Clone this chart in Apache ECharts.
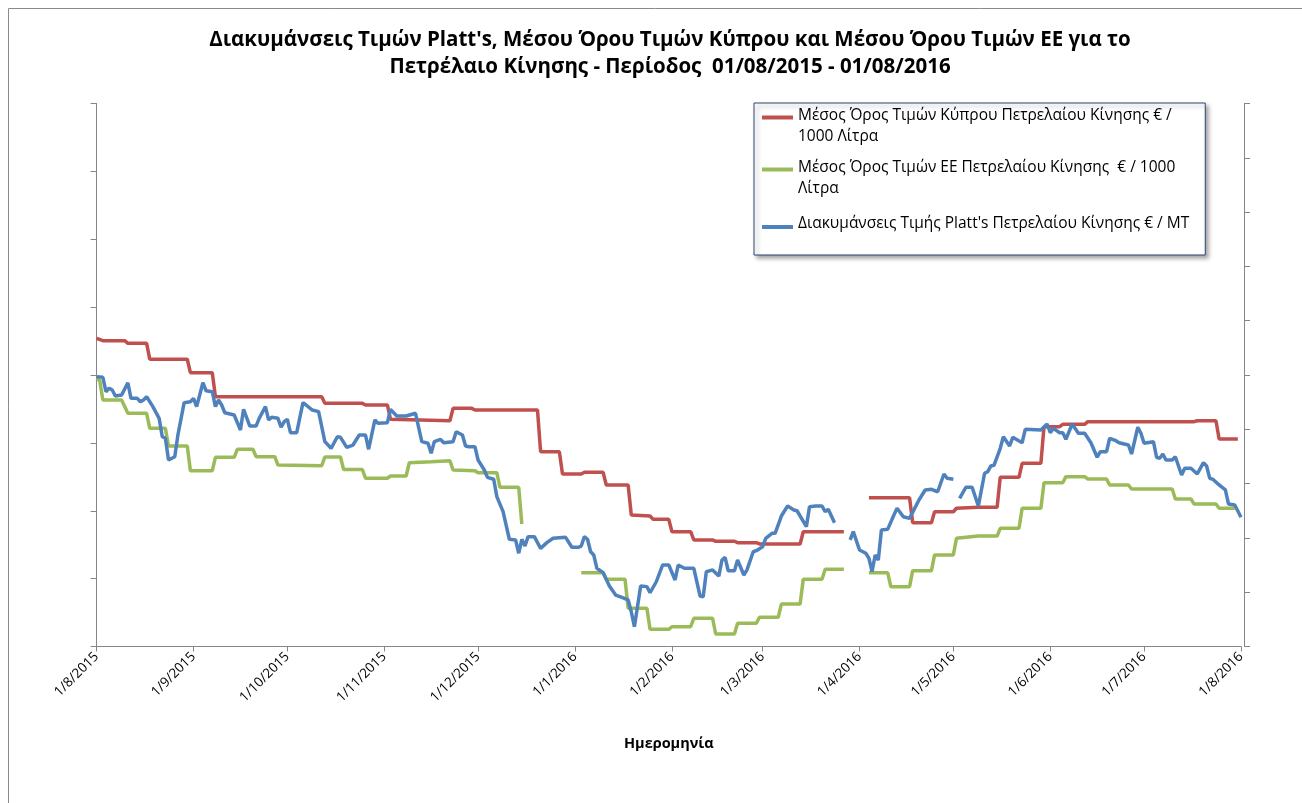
<!DOCTYPE html>
<html>
<head>
<meta charset="utf-8">
<script src="https://cdn.jsdelivr.net/npm/echarts@6/dist/echarts.min.js"></script>
<style>
  html, body { margin: 0; padding: 0; background: #fff; }
  #chart { width: 1302px; height: 803px; }
</style>
</head>
<body>
<div id="chart"></div>
<script>
// days are counted from 1/8/2015
const cyprusName = 'Μέσος Όρος Τιμών Κύπρου Πετρελαίου Κίνησης € / 1000 Λίτρα';
const euName = 'Μέσος Όρος Τιμών ΕΕ Πετρελαίου Κίνησης € / 1000 Λίτρα';
const plattsName = "Διακυμάνσεις Τιμής Platt's Πετρελαίου Κίνησης € / ΜΤ";

const cyprusPoints = [
  [0,1183.8],[2,1181.6],[9,1181.6],[10,1179.2],[16,1179.2],[17,1164.5],[29,1164.5],[30,1152.1],
  [37,1152.1],[38,1130.0],[72,1130.0],[73,1123.9],[85,1123.9],[86,1122.4],[93,1122.4],[94,1109.2],
  [113,1107.9],[114,1119.3],[120,1119.3],[121,1117.8],[141,1117.8],[142,1079.4],[148,1079.4],
  [149,1058.8],[155,1058.8],[156,1060.4],[162,1060.4],[163,1048.7],[170,1048.7],[171,1021.1],
  [177,1020.2],[178,1017.1],[183,1017.1],[184,1005.7],[190,1005.7],[191,998.1],[197,998.1],
  [198,996.9],[204,996.9],[205,995.6],[211,995.6],[212,994.4],[225,994.4],[226,1005.7],[239,1005.7],
  [243,null],
  [247,1037.0],[260,1037.0],[261,1014.0],[267,1014.0],[268,1024.1],[274,1024.1],[275,1027.3],
  [282,1028.2],[288,1028.2],[289,1055.8],[295,1055.8],[296,1068.7],[302,1068.7],[303,1102.4],
  [308,1102.4],[309,1104.6],[316,1104.6],[317,1107.0],[351,1107.0],[352,1107.9],[358,1107.9],
  [359,1091.1],[365,1091.1]
];

const euPoints = [
  [0,1147.0],[1,1144.8],[2,1127.0],[8,1127.0],[10,1114.7],[16,1114.7],[17,1100.9],[22,1100.9],
  [23,1084.6],[29,1084.6],[30,1061.9],[37,1061.9],[38,1074.2],[44,1074.2],[45,1081.6],[50,1081.6],
  [51,1074.8],[57,1074.8],[58,1067.1],[72,1066.5],[73,1074.5],[78,1074.5],[79,1063.0],[85,1063.0],
  [86,1054.9],[93,1054.9],[94,1057.0],[99,1057.0],[100,1069.2],[107,1070.2],[113,1071.1],
  [114,1062.5],[121,1061.9],[122,1060.0],[128,1060.0],[129,1046.6],[135,1046.6],[136,1012.8],
  [145,null],
  [155,968.0],[162,968.0],[163,961.9],[169,961.9],[170,935.2],[176,935.2],[177,915.8],[183,915.8],
  [184,918.2],[190,918.2],[191,926.0],[197,926.0],[198,911.5],[204,911.5],[205,921.4],[211,921.4],
  [212,926.9],[218,926.9],[219,939.1],[225,939.1],[226,961.9],[232,961.9],[233,971.1],[239,971.1],
  [243,null],
  [247,968.0],[253,968.0],[254,955.1],[260,955.1],[261,969.8],[267,969.8],[268,984.3],[274,984.3],
  [275,999.6],[282,1001.7],[288,1001.7],[289,1008.8],[295,1008.8],[296,1027.3],[302,1027.3],
  [303,1050.8],[309,1050.8],[310,1056.4],[316,1056.4],[317,1054.2],[323,1054.2],[324,1048.7],
  [330,1048.7],[331,1045.0],[344,1045.0],[345,1035.8],[350,1035.8],[351,1031.2],[358,1031.2],
  [359,1027.3],[364,1027.3]
];

const plattsPoints = [
  [0,448.7],[2,448.3],[3,437.7],[4,440.2],[5,439.0],[6,434.5],[8,435.3],[10,444.3],[11,432.8],
  [13,432.8],[14,430.3],[15,431.6],[16,434.0],[18,426.7],[20,418.1],[21,404.5],[22,403.4],
  [23,387.4],[25,389.8],[26,405.8],[28,429.6],[30,430.3],[31,432.8],[32,426.7],[34,444.3],
  [35,438.4],[37,437.7],[38,426.7],[39,431.6],[40,427.9],[41,422.2],[44,420.5],[46,409.5],
  [47,424.7],[49,412.4],[51,412.4],[52,418.1],[54,426.7],[55,416.9],[56,418.8],[58,418.1],
  [59,411.5],[60,415.6],[61,417.4],[62,407.5],[64,407.5],[66,429.6],[67,427.9],[69,424.2],
  [71,423.0],[73,400.9],[75,396.0],[77,404.5],[78,404.1],[80,396.7],[82,398.4],[84,405.8],
  [86,405.8],[87,395.3],[89,416.9],[90,414.4],[93,414.9],[94,424.7],[96,419.8],[99,419.8],
  [102,421.8],[104,400.9],[106,399.7],[107,392.3],[108,400.9],[110,402.6],[111,400.1],[114,400.9],
  [115,408.2],[117,405.8],[118,397.7],[119,397.2],[121,397.2],[122,387.4],[124,380.0],[125,374.6],
  [127,373.2],[128,360.4],[130,349.3],[132,329.0],[134,328.5],[135,318.7],[136,329.0],[137,324.0],
  [138,330.9],[140,330.9],[142,322.3],[144,326.5],[146,329.7],[150,330.4],[152,323.1],[154,323.1],
  [155,324.0],[156,330.9],[157,329.0],[158,319.8],[159,317.4],[160,307.6],[162,304.4],[164,294.6],
  [166,287.9],[168,286.2],[170,284.3],[171,275.6],[172,264.6],[174,294.6],[176,294.1],[177,289.6],
  [179,297.7],[181,310.0],[183,310.0],[185,299.0],[186,310.0],[188,307.6],[191,307.6],[193,287.2],
  [194,286.7],[195,305.1],[197,306.4],[199,301.9],[200,313.7],[201,315.7],[202,305.8],[204,305.8],
  [205,313.7],[207,302.7],[208,306.4],[210,319.8],[211,320.6],[213,323.5],[214,329.7],[216,333.4],
  [217,333.4],[219,346.1],[221,353.5],[223,350.6],[224,350.0],[227,338.3],[228,353.0],[230,353.5],
  [232,353.5],[233,349.3],[234,351.1],[236,341.2],
  [238,null],
  [241,328.5],[242,334.6],[244,321.1],[246,318.7],[247,315.0],[248,305.1],[249,317.4],[250,313.7],
  [251,335.8],[253,336.3],[255,346.9],[256,351.8],[258,345.6],[260,344.4],[263,357.9],[265,365.3],
  [267,365.8],[269,364.0],[271,377.1],[272,373.9],[274,373.2],
  [275,null],
  [276,359.2],[278,367.3],[280,367.3],[282,353.5],[284,377.6],[285,378.8],[286,383.0],[287,383.5],
  [289,396.0],[290,404.5],[292,397.7],[293,404.1],[296,400.1],[297,410.0],[302,409.5],[304,413.9],
  [305,407.5],[306,410.7],[308,407.5],[309,407.5],[310,402.6],[312,413.9],[314,407.1],[316,407.1],
  [318,400.1],[320,389.4],[321,393.5],[323,393.5],[324,403.4],[326,401.6],[327,400.1],[330,398.4],
  [331,391.8],[333,411.5],[334,407.1],[335,399.7],[338,400.9],[339,389.4],[340,388.6],[341,391.8],
  [342,387.4],[344,387.4],[345,389.8],[347,376.3],[348,381.3],[350,381.3],[352,377.1],[354,385.4],
  [355,383.0],[356,373.9],[357,373.2],[359,369.0],[361,365.3],[362,355.0],[364,354.2],[366,345.2]
];

const legendText = {};
legendText[cyprusName] = 'Μέσος Όρος Τιμών Κύπρου Πετρελαίου Κίνησης € /\n1000 Λίτρα';
legendText[euName] = 'Μέσος Όρος Τιμών ΕΕ Πετρελαίου Κίνησης  € / 1000\nΛίτρα';
legendText[plattsName] = plattsName;

const FONT = '"Open Sans", "Noto Sans", sans-serif';

function dayToTime(d) {
  return new Date(2015, 7, 1 + d).getTime();
}
function toSeriesData(points) {
  return points.map(p => [dayToTime(p[0]), p[1] === null ? '-' : p[1]]);
}

const chart = echarts.init(document.getElementById('chart'), null, { renderer: 'canvas' });

const option = {
  animation: false,
  backgroundColor: '#fff',
  title: {
    text: "Διακυμάνσεις Τιμών Platt's, Μέσου Όρου Τιμών Κύπρου και Μέσου Όρου Τιμών ΕΕ για το\nΠετρέλαιο Κίνησης - Περίοδος  01/08/2015 - 01/08/2016",
    left: 665,
    top: 22,
    textAlign: 'center',
    textStyle: { fontFamily: FONT, fontSize: 20.5, fontWeight: 'bold', color: '#000', lineHeight: 27 }
  },
  graphic: [
    {
      type: 'rect',
      silent: true,
      shape: { x: 8.5, y: 8.5, width: 1400, height: 900 },
      style: { fill: 'none', stroke: '#8a8a8a', lineWidth: 1 }
    }
  ],
  legend: {
    orient: 'vertical',
    left: 754,
    top: 103,
    padding: [2.5, 16, 17.5, 8],
    itemGap: 10,
    itemWidth: 31,
    itemHeight: 22,
    backgroundColor: '#fff',
    borderColor: '#2b4570',
    borderWidth: 1,
    shadowBlur: 4,
    shadowOffsetX: 3,
    shadowOffsetY: 3,
    shadowColor: 'rgba(0,0,0,0.35)',
    textStyle: { fontFamily: FONT, fontSize: 15.5, lineHeight: 21, color: '#000' },
    formatter: name => legendText[name],
    data: [
      { name: cyprusName, icon: 'path://M0,0H31V4H0ZM0,21.9H0.1V22H0Z' },
      { name: euName, icon: 'path://M0,0H31V4H0ZM0,21.9H0.1V22H0Z' },
      {
        name: plattsName,
        icon: 'path://M0,0H0.1V0.1H0ZM0,12.5H31V16.5H0ZM0,21.9H0.1V22H0Z',
        textStyle: { padding: [7, 0, 0, 0] }
      }
    ]
  },
  grid: {
    left: 96.6,
    right: 61,
    top: 103.5,
    bottom: 156.5,
    outerBoundsMode: 'none'
  },
  xAxis: {
    type: 'time',
    min: dayToTime(0),
    max: dayToTime(366),
    splitNumber: 12,
    minInterval: 28 * 86400000,
    maxInterval: 31 * 86400000,
    name: 'Ημερομηνία',
    nameLocation: 'middle',
    nameGap: 90,
    nameTextStyle: { fontFamily: FONT, fontSize: 14.5, fontWeight: 'bold', color: '#000' },
    axisLine: { lineStyle: { color: '#868686', width: 1 } },
    axisTick: { show: true, length: 5, lineStyle: { color: '#868686' } },
    splitLine: { show: false },
    axisLabel: {
      rotate: 45,
      margin: 8,
      hideOverlap: false,
      fontFamily: FONT,
      fontSize: 13.5,
      color: '#000',
      formatter: function (value) {
        const d = new Date(value);
        return d.getDate() + '/' + (d.getMonth() + 1) + '/' + d.getFullYear();
      }
    }
  },
  yAxis: [
    {
      type: 'value',
      position: 'left',
      min: 250,
      max: 650,
      interval: 50,
      axisLine: { show: true, lineStyle: { color: '#868686', width: 1 } },
      axisTick: { show: true, length: 6, lineStyle: { color: '#868686' } },
      axisLabel: { show: false },
      splitLine: { show: false }
    },
    {
      type: 'value',
      position: 'right',
      offset: 3,
      min: 900,
      max: 1400,
      interval: 50,
      axisLine: { show: true, lineStyle: { color: '#868686', width: 1 } },
      axisTick: { show: true, length: 6, lineStyle: { color: '#868686' } },
      axisLabel: { show: false },
      splitLine: { show: false }
    }
  ],
  series: [
    {
      name: cyprusName,
      type: 'line',
      yAxisIndex: 1,
      showSymbol: false,
      symbol: 'none',
      connectNulls: false,
      color: '#c0504d',
      lineStyle: { width: 3.5, color: '#c0504d' },
      data: toSeriesData(cyprusPoints)
    },
    {
      name: euName,
      type: 'line',
      yAxisIndex: 1,
      showSymbol: false,
      symbol: 'none',
      connectNulls: false,
      color: '#9bbb59',
      lineStyle: { width: 3.5, color: '#9bbb59' },
      data: toSeriesData(euPoints)
    },
    {
      name: plattsName,
      type: 'line',
      yAxisIndex: 0,
      showSymbol: false,
      symbol: 'none',
      connectNulls: false,
      color: '#4f81bd',
      lineStyle: { width: 3.5, color: '#4f81bd' },
      data: toSeriesData(plattsPoints)
    }
  ]
};

chart.setOption(option);
</script>
</body>
</html>
